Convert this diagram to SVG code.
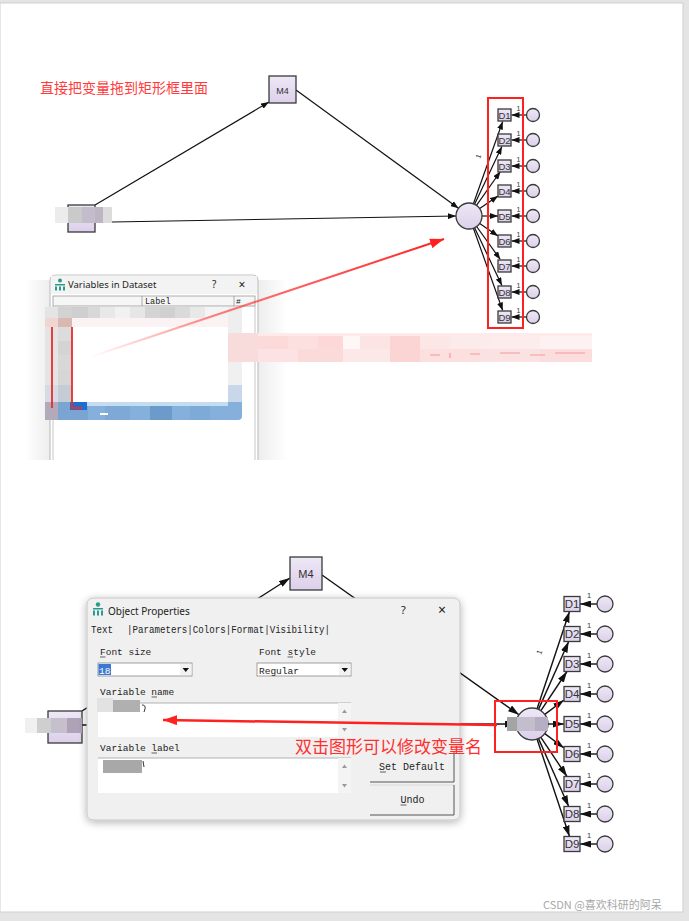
<svg xmlns="http://www.w3.org/2000/svg" width="689" height="921" viewBox="0 0 689 921">
<defs>
<style>
.node{fill:url(#lav);stroke:#3a3a3a;stroke-width:1.3}
.lbl{font-family:"Liberation Sans",Arial,sans-serif;fill:#333;text-anchor:middle}
.edge{stroke:#111;stroke-width:1.2;fill:none}
.eb{stroke:#111;stroke-width:1.4;fill:none}
.mono{font-family:"Liberation Mono","DejaVu Sans Mono",monospace;fill:#222}
.ui{font-family:"Noto Sans","Liberation Sans",sans-serif;fill:#222}
.cn{font-family:"Noto Sans CJK SC","Noto Sans CJK JP",sans-serif}
.one{font-family:"Liberation Sans",Arial,sans-serif;fill:#333}
</style>
<linearGradient id="lav" x1="0" y1="0" x2="0" y2="1"><stop offset="0" stop-color="#eee8f6"/><stop offset="1" stop-color="#dcd0ea"/></linearGradient>
<linearGradient id="fade" gradientUnits="userSpaceOnUse" x1="90" y1="357" x2="444" y2="239"><stop offset="0" stop-color="#ff3030" stop-opacity="0"/><stop offset="0.35" stop-color="#ff3030" stop-opacity="0.6"/><stop offset="1" stop-color="#ff2020"/></linearGradient>
<linearGradient id="shl" x1="0" y1="0" x2="1" y2="0"><stop offset="0" stop-color="#000" stop-opacity="0"/><stop offset="1" stop-color="#000" stop-opacity="0.07"/></linearGradient>
<linearGradient id="shr" x1="0" y1="0" x2="1" y2="0"><stop offset="0" stop-color="#000" stop-opacity="0.07"/><stop offset="1" stop-color="#000" stop-opacity="0"/></linearGradient>
<filter id="sh" x="-10%" y="-10%" width="120%" height="130%"><feGaussianBlur in="SourceAlpha" stdDeviation="4"/><feOffset dy="2"/><feComponentTransfer><feFuncA type="linear" slope="0.3"/></feComponentTransfer><feMerge><feMergeNode/><feMergeNode in="SourceGraphic"/></feMerge></filter>
<marker id="ah" markerUnits="userSpaceOnUse" markerWidth="8" markerHeight="6" refX="8" refY="3" orient="auto"><path d="M0,0L8,3L0,6z" fill="#111"/></marker>
<marker id="ahb" markerUnits="userSpaceOnUse" markerWidth="11" markerHeight="7" refX="11" refY="3.5" orient="auto"><path d="M0,0L11,3.5L0,7z" fill="#111"/></marker>
<marker id="ar" markerUnits="userSpaceOnUse" markerWidth="14" markerHeight="10" refX="14" refY="5" orient="auto"><path d="M0,0L14,5L0,10z" fill="#ff2020"/></marker>
</defs>

<!-- page -->
<rect x="0" y="0" width="689" height="921" fill="#e4e4e4"/>
<rect x="0" y="3" width="683" height="909" fill="#ffffff" stroke="#cfcfcf" stroke-width="1"/>

<!-- ================= TOP SCREENSHOT ================= -->
<text x="40" y="93" class="cn" font-size="14" fill="#ff3b3b">直接把变量拖到矩形框里面</text>

<g id="top-connectors">
  <line class="edge" x1="95" y1="205" x2="269" y2="102" marker-end="url(#ah)"/>
  <line class="edge" x1="296" y1="90" x2="458.5" y2="208.3" marker-end="url(#ah)"/>
  <line class="edge" x1="112" y1="222" x2="456" y2="216" marker-end="url(#ah)"/>
  <line class="edge" x1="473.4" y1="203.8" x2="502.7" y2="121.5" marker-end="url(#ah)"/>
  <line class="edge" x1="474.6" y1="204.2" x2="501.9" y2="146.5" marker-end="url(#ah)"/>
  <line class="edge" x1="476.5" y1="205.4" x2="500.4" y2="171.5" marker-end="url(#ah)"/>
  <line class="edge" x1="479.7" y1="208.6" x2="498" y2="195.9" marker-end="url(#ah)"/>
  <line class="edge" x1="482" y1="216" x2="498" y2="216" marker-end="url(#ah)"/>
  <line class="edge" x1="479.7" y1="223.4" x2="498" y2="236.1" marker-end="url(#ah)"/>
  <line class="edge" x1="476.6" y1="226.5" x2="500.3" y2="259.5" marker-end="url(#ah)"/>
  <line class="edge" x1="474.6" y1="227.7" x2="501.9" y2="285.5" marker-end="url(#ah)"/>
  <line class="edge" x1="473.4" y1="228.2" x2="502.7" y2="310.5" marker-end="url(#ah)"/>
  <line class="edge" x1="526.5" y1="115" x2="511.5" y2="115" marker-end="url(#ah)"/>
  <line class="edge" x1="526.5" y1="140" x2="511.5" y2="140" marker-end="url(#ah)"/>
  <line class="edge" x1="526.5" y1="166" x2="511.5" y2="166" marker-end="url(#ah)"/>
  <line class="edge" x1="526.5" y1="191" x2="511.5" y2="191" marker-end="url(#ah)"/>
  <line class="edge" x1="526.5" y1="216" x2="511.5" y2="216" marker-end="url(#ah)"/>
  <line class="edge" x1="526.5" y1="241" x2="511.5" y2="241" marker-end="url(#ah)"/>
  <line class="edge" x1="526.5" y1="266" x2="511.5" y2="266" marker-end="url(#ah)"/>
  <line class="edge" x1="526.5" y1="292" x2="511.5" y2="292" marker-end="url(#ah)"/>
  <line class="edge" x1="526.5" y1="317" x2="511.5" y2="317" marker-end="url(#ah)"/>
  <g class="one" font-size="7">
    <text x="516.5" y="111">1</text><text x="516.5" y="136">1</text><text x="516.5" y="162">1</text>
    <text x="516.5" y="187">1</text><text x="516.5" y="212">1</text><text x="516.5" y="237">1</text>
    <text x="516.5" y="262">1</text><text x="516.5" y="288">1</text><text x="516.5" y="313">1</text>
    <text x="480" y="159" transform="rotate(-70 480 159)">1</text>
  </g>
</g>

<g id="top-M4"><rect class="node" x="269" y="76" width="27" height="27" stroke-width="1.8"/><text class="lbl" x="282.5" y="93.5" font-size="9">M4</text></g>
<g id="top-X">
  <rect class="node" x="68" y="205" width="27" height="27" stroke-width="1.6"/>
  <rect x="55" y="207" width="13" height="16" fill="#ececec"/>
  <rect x="68" y="207" width="14" height="16" fill="#cacaca"/>
  <rect x="82" y="207" width="13" height="16" fill="#c2bccc"/>
  <rect x="95" y="207" width="8" height="16" fill="#bdb5c4"/>
  <rect x="103" y="207" width="9" height="16" fill="#dcdcdc"/>
</g>
<g id="top-F"><circle class="node" cx="469" cy="216" r="13"/></g>
<g id="top-D">
  <g id="tD1"><rect class="node" x="498" y="109" width="13" height="12"/><text class="lbl" x="504.5" y="118.5" font-size="9.5">D1</text><circle class="node" cx="533" cy="115" r="6.5"/></g>
  <g id="tD2"><rect class="node" x="498" y="134" width="13" height="12"/><text class="lbl" x="504.5" y="143.5" font-size="9.5">D2</text><circle class="node" cx="533" cy="140" r="6.5"/></g>
  <g id="tD3"><rect class="node" x="498" y="160" width="13" height="12"/><text class="lbl" x="504.5" y="169.5" font-size="9.5">D3</text><circle class="node" cx="533" cy="166" r="6.5"/></g>
  <g id="tD4"><rect class="node" x="498" y="185" width="13" height="12"/><text class="lbl" x="504.5" y="194.5" font-size="9.5">D4</text><circle class="node" cx="533" cy="191" r="6.5"/></g>
  <g id="tD5"><rect class="node" x="498" y="210" width="13" height="12"/><text class="lbl" x="504.5" y="219.5" font-size="9.5">D5</text><circle class="node" cx="533" cy="216" r="6.5"/></g>
  <g id="tD6"><rect class="node" x="498" y="235" width="13" height="12"/><text class="lbl" x="504.5" y="244.5" font-size="9.5">D6</text><circle class="node" cx="533" cy="241" r="6.5"/></g>
  <g id="tD7"><rect class="node" x="498" y="260" width="13" height="12"/><text class="lbl" x="504.5" y="269.5" font-size="9.5">D7</text><circle class="node" cx="533" cy="266" r="6.5"/></g>
  <g id="tD8"><rect class="node" x="498" y="286" width="13" height="12"/><text class="lbl" x="504.5" y="295.5" font-size="9.5">D8</text><circle class="node" cx="533" cy="292" r="6.5"/></g>
  <g id="tD9"><rect class="node" x="498" y="311" width="13" height="12"/><text class="lbl" x="504.5" y="320.5" font-size="9.5">D9</text><circle class="node" cx="533" cy="317" r="6.5"/></g>
</g>
<rect id="top-redbox" x="488" y="98" width="35" height="230" fill="none" stroke="#ff2020" stroke-width="2"/>

<!-- Variables in Dataset window -->
<g id="dataset-window">
  <rect x="25" y="280" width="25" height="180" fill="url(#shl)"/>
  <rect x="258" y="280" width="30" height="180" fill="url(#shr)"/>
  <path d="M50,460 V281 Q50,275 56,275 H252 Q258,275 258,281 V460" fill="#ffffff" stroke="#c4c4c4" stroke-width="1.2"/>
  <rect x="51" y="276" width="206" height="18" fill="#f3f3f3"/>
  <g fill="#2a9a8c"><circle cx="60" cy="280.5" r="2"/><rect x="55" y="284" width="10" height="1.5"/><rect x="55" y="286.5" width="2" height="4"/><rect x="59" y="286.5" width="2" height="4"/><rect x="63" y="286.5" width="2" height="4"/></g>
  <text x="68" y="288" class="ui" font-size="9.5">Variables in Dataset</text>
  <text x="212" y="288" class="ui" font-size="10">?</text>
  <text x="242" y="289" class="ui" font-size="12" text-anchor="middle">×</text>
  <rect x="53" y="296" width="202" height="10" fill="#f6f6f6" stroke="#9a9a9a" stroke-width="0.8"/>
  <line x1="142" y1="296" x2="142" y2="306" stroke="#9a9a9a" stroke-width="0.8"/>
  <line x1="234" y1="296" x2="234" y2="306" stroke="#9a9a9a" stroke-width="0.8"/>
  <text x="145" y="304" class="mono" font-size="8.5">Label</text>
  <text x="236" y="304" class="mono" font-size="8">#</text>
  <line x1="53" y1="306" x2="53" y2="460" stroke="#b8b8b8" stroke-width="0.8"/>
  <line x1="255" y1="306" x2="255" y2="460" stroke="#b8b8b8" stroke-width="0.8"/>
  <!-- mosaic blur -->
  <g>
    <rect x="45" y="307" width="13" height="11" fill="#e4e4e4"/><rect x="58" y="307" width="14" height="11" fill="#d2d2d2"/>
    <rect x="72" y="307" width="16" height="11" fill="#cfcfcf"/><rect x="88" y="307" width="12" height="11" fill="#d8d8d8"/>
    <rect x="100" y="307" width="15" height="11" fill="#e8e8e8"/><rect x="115" y="307" width="15" height="11" fill="#f1f1f1"/>
    <rect x="130" y="307" width="15" height="11" fill="#e6e6e6"/><rect x="145" y="307" width="15" height="11" fill="#d4d4d4"/>
    <rect x="160" y="307" width="15" height="11" fill="#d0d0d0"/><rect x="175" y="307" width="15" height="11" fill="#dadada"/>
    <rect x="190" y="307" width="15" height="11" fill="#e8e8e8"/><rect x="205" y="307" width="23" height="11" fill="#f4f4f4"/>
    <rect x="45" y="318" width="13" height="9" fill="#f0d6d2"/><rect x="58" y="318" width="14" height="9" fill="#d8b8b0"/>
    <rect x="72" y="318" width="156" height="9" fill="#fbf3f3"/><rect x="228" y="307" width="14" height="26" fill="#eeeeee"/>
    <rect x="45" y="327" width="13" height="75" fill="#e4e4e4"/>
    <rect x="58" y="327" width="14" height="14" fill="#dcdcdc"/><rect x="58" y="341" width="14" height="14" fill="#d4d4d4"/>
    <rect x="58" y="355" width="14" height="15" fill="#d8d8d8"/><rect x="58" y="370" width="14" height="15" fill="#d6d6d6"/>
    <rect x="58" y="385" width="14" height="17" fill="#c6ccd6"/>
    <rect x="45" y="385" width="13" height="17" fill="#d6dae2"/>
    <rect x="72" y="327" width="156" height="75" fill="#ffffff"/>
    <rect x="228" y="333" width="14" height="27" fill="#f4cccc"/><rect x="228" y="360" width="14" height="25" fill="#f0f0f0"/>
    <rect x="228" y="385" width="14" height="17" fill="#c8d8ea"/>
    <path d="M45,402 H242 V416 Q242,420 238,420 H49 Q45,420 45,416 Z" fill="#86b0dc"/>
    <rect x="58" y="402" width="30" height="18" fill="#7aa4d2"/><rect x="105" y="405" width="25" height="15" fill="#7ea8d6"/>
    <rect x="150" y="405" width="22" height="15" fill="#6c9acb"/><rect x="190" y="405" width="20" height="15" fill="#7eaad8"/>
    <rect x="87" y="402" width="141" height="4" fill="#c4dcf0"/>
    <rect x="45" y="402" width="13" height="18" fill="#b2aabb"/>
    <rect x="70" y="402" width="17" height="8" fill="#1a6fd0"/>
    <rect x="100" y="413" width="8" height="2" fill="#ffffff"/>
  </g>
  <line x1="52" y1="327" x2="52" y2="408" stroke="#ee2a2a" stroke-width="1.8"/>
  <polyline points="72,327 72,408 82,408" fill="none" stroke="#ee2a2a" stroke-width="1.8"/>
</g>

<!-- pink blurred caption band -->
<g id="pink-band">
  <rect x="228" y="333" width="364" height="29" fill="#fdeaea"/>
  <rect x="228" y="333" width="30" height="29" fill="#f8dcdc"/>
  <rect x="258" y="336" width="30" height="13" fill="#fcdada"/><rect x="288" y="336" width="30" height="13" fill="#fce0e0"/>
  <rect x="318" y="336" width="25" height="13" fill="#fcd8d8"/><rect x="343" y="336" width="17" height="13" fill="#fff6f6"/>
  <rect x="360" y="336" width="30" height="13" fill="#fde4e4"/><rect x="390" y="336" width="30" height="26" fill="#fbd4d4"/>
  <rect x="420" y="336" width="30" height="13" fill="#fde6e6"/><rect x="450" y="336" width="40" height="13" fill="#fcebeb"/>
  <rect x="490" y="336" width="50" height="13" fill="#fdecec"/><rect x="540" y="336" width="52" height="13" fill="#fef1f1"/>
  <rect x="258" y="349" width="40" height="13" fill="#fce2e2"/><rect x="298" y="349" width="45" height="13" fill="#fbdada"/>
  <rect x="343" y="349" width="47" height="13" fill="#fde8e8"/><rect x="420" y="349" width="60" height="13" fill="#fcdfdf"/>
  <rect x="480" y="349" width="60" height="13" fill="#fbe2e2"/><rect x="540" y="349" width="52" height="13" fill="#fcdddd"/>
  <path d="M430,355 H440 M450,353 V358 M470,354 H480 M500,353 H520 M530,355 H545 M555,353 H585" stroke="#f29a9a" stroke-width="1.2"/>
</g>

<line id="red-drag-arrow" x1="90" y1="357" x2="444" y2="239" stroke="url(#fade)" stroke-width="2" marker-end="url(#ar)"/>

<!-- ================= BOTTOM SCREENSHOT ================= -->
<g id="bottom-connectors">
  <line class="eb" x1="82" y1="711" x2="290" y2="578" marker-end="url(#ahb)"/>
  <line class="eb" x1="322" y1="575" x2="519" y2="714.7" marker-end="url(#ahb)"/>
  <line class="eb" x1="82" y1="725" x2="516" y2="724" marker-end="url(#ahb)"/>
  <line class="eb" x1="537.1" y1="708.8" x2="569.5" y2="611.5" marker-end="url(#ahb)"/>
  <line class="eb" x1="538.5" y1="709.4" x2="568.7" y2="641.5" marker-end="url(#ahb)"/>
  <line class="eb" x1="540.9" y1="710.7" x2="567" y2="671.5" marker-end="url(#ahb)"/>
  <line class="eb" x1="544.8" y1="714.4" x2="564" y2="700" marker-end="url(#ahb)"/>
  <line class="eb" x1="548" y1="724" x2="564" y2="724" marker-end="url(#ahb)"/>
  <line class="eb" x1="544.8" y1="733.6" x2="564" y2="748" marker-end="url(#ahb)"/>
  <line class="eb" x1="540.9" y1="737.3" x2="567" y2="776.5" marker-end="url(#ahb)"/>
  <line class="eb" x1="538.5" y1="738.6" x2="568.7" y2="806.5" marker-end="url(#ahb)"/>
  <line class="eb" x1="537.1" y1="739.2" x2="569.5" y2="836.5" marker-end="url(#ahb)"/>
  <line class="eb" x1="597" y1="604" x2="580" y2="604" marker-end="url(#ahb)"/>
  <line class="eb" x1="597" y1="634" x2="580" y2="634" marker-end="url(#ahb)"/>
  <line class="eb" x1="597" y1="664" x2="580" y2="664" marker-end="url(#ahb)"/>
  <line class="eb" x1="597" y1="694" x2="580" y2="694" marker-end="url(#ahb)"/>
  <line class="eb" x1="597" y1="724" x2="580" y2="724" marker-end="url(#ahb)"/>
  <line class="eb" x1="597" y1="754" x2="580" y2="754" marker-end="url(#ahb)"/>
  <line class="eb" x1="597" y1="784" x2="580" y2="784" marker-end="url(#ahb)"/>
  <line class="eb" x1="597" y1="814" x2="580" y2="814" marker-end="url(#ahb)"/>
  <line class="eb" x1="597" y1="844" x2="580" y2="844" marker-end="url(#ahb)"/>
  <g class="one" font-size="7.5">
    <text x="587" y="598">1</text><text x="587" y="628">1</text><text x="587" y="658">1</text>
    <text x="587" y="688">1</text><text x="587" y="718">1</text><text x="587" y="748">1</text>
    <text x="587" y="778">1</text><text x="587" y="808">1</text><text x="587" y="838">1</text>
    <text x="541" y="655" transform="rotate(-70 541 655)">1</text>
  </g>
</g>

<g id="bot-M4"><rect class="node" x="290" y="557" width="32" height="33" stroke-width="1.8"/><text class="lbl" x="306" y="578" font-size="11">M4</text></g>
<g id="bot-X">
  <rect class="node" x="48" y="711" width="34" height="32" stroke-width="1.8"/>
  <rect x="25" y="718" width="12" height="15" fill="#f0f0f0"/>
  <rect x="37" y="718" width="14" height="15" fill="#cfcfcf"/>
  <rect x="51" y="718" width="16" height="15" fill="#c6c0cc"/>
  <rect x="67" y="718" width="15" height="15" fill="#ada2b6"/>
</g>
<g id="bot-F">
  <circle class="node" cx="532" cy="724" r="16"/>
  <rect x="507" y="717" width="10" height="14" fill="#a4a4a4"/>
  <rect x="517" y="717" width="18" height="14" fill="#c2bece"/>
  <rect x="535" y="717" width="13" height="14" fill="#b6aec2"/>
</g>
<g id="bot-D">
  <g id="bD1"><rect class="node" x="564" y="596.5" width="16" height="15"/><text class="lbl" x="572" y="608" font-size="11.5">D1</text><circle class="node" cx="605" cy="604" r="8"/></g>
  <g id="bD2"><rect class="node" x="564" y="626.5" width="16" height="15"/><text class="lbl" x="572" y="638" font-size="11.5">D2</text><circle class="node" cx="605" cy="634" r="8"/></g>
  <g id="bD3"><rect class="node" x="564" y="656.5" width="16" height="15"/><text class="lbl" x="572" y="668" font-size="11.5">D3</text><circle class="node" cx="605" cy="664" r="8"/></g>
  <g id="bD4"><rect class="node" x="564" y="686.5" width="16" height="15"/><text class="lbl" x="572" y="698" font-size="11.5">D4</text><circle class="node" cx="605" cy="694" r="8"/></g>
  <g id="bD5"><rect class="node" x="564" y="716.5" width="16" height="15"/><text class="lbl" x="572" y="728" font-size="11.5">D5</text><circle class="node" cx="605" cy="724" r="8"/></g>
  <g id="bD6"><rect class="node" x="564" y="746.5" width="16" height="15"/><text class="lbl" x="572" y="758" font-size="11.5">D6</text><circle class="node" cx="605" cy="754" r="8"/></g>
  <g id="bD7"><rect class="node" x="564" y="776.5" width="16" height="15"/><text class="lbl" x="572" y="788" font-size="11.5">D7</text><circle class="node" cx="605" cy="784" r="8"/></g>
  <g id="bD8"><rect class="node" x="564" y="806.5" width="16" height="15"/><text class="lbl" x="572" y="818" font-size="11.5">D8</text><circle class="node" cx="605" cy="814" r="8"/></g>
  <g id="bD9"><rect class="node" x="564" y="836.5" width="16" height="15"/><text class="lbl" x="572" y="848" font-size="11.5">D9</text><circle class="node" cx="605" cy="844" r="8"/></g>
</g>
<rect id="bot-redbox" x="495" y="701" width="62" height="51" fill="none" stroke="#ff2020" stroke-width="2"/>

<!-- Object Properties dialog -->
<g id="object-properties">
  <rect x="87" y="598" width="373" height="222" rx="6" fill="#f0f0f0" stroke="#c6c6c6" stroke-width="1" filter="url(#sh)"/>
  <g fill="#2a9a8c"><circle cx="98" cy="604.5" r="2.2"/><rect x="93" y="608" width="10" height="1.5"/><rect x="93" y="610.5" width="2" height="5"/><rect x="97" y="610.5" width="2" height="5"/><rect x="101" y="610.5" width="2" height="5"/></g>
  <text x="108" y="614.5" class="ui" font-size="10">Object Properties</text>
  <text x="401" y="614" class="ui" font-size="11">?</text>
  <text x="442" y="615" class="ui" font-size="14" text-anchor="middle">×</text>
  <text x="91" y="633" class="mono" font-size="10" textLength="22" lengthAdjust="spacingAndGlyphs">Text</text>
  <text x="127" y="633" class="mono" font-size="10" textLength="203" lengthAdjust="spacingAndGlyphs">|Parameters|Colors|Format|Visibility|</text>

  <text x="100" y="655" class="mono" font-size="9.5">Font size</text>
  <line x1="100" y1="657" x2="105.5" y2="657" stroke="#222" stroke-width="0.7"/>
  <text x="259" y="655" class="mono" font-size="9.5">Font style</text>
  <line x1="287.5" y1="657" x2="293" y2="657" stroke="#222" stroke-width="0.7"/>

  <rect x="98" y="663" width="94" height="13" fill="#ffffff" stroke="#8a8a8a" stroke-width="0.8"/>
  <rect x="98.5" y="664" width="12.5" height="11" fill="#3a78d4"/>
  <text x="99" y="673.5" class="mono" font-size="9.5" style="fill:#ffffff">18</text>
  <rect x="180" y="664" width="11.5" height="11" fill="#f2f2f2"/>
  <path d="M182.5,668 H189 L185.75,672 Z" fill="#111"/>
  <rect x="257" y="663" width="94" height="13" fill="#ffffff" stroke="#8a8a8a" stroke-width="0.8"/>
  <text x="259" y="673.5" class="mono" font-size="9.5">Regular</text>
  <rect x="339" y="664" width="11.5" height="11" fill="#f2f2f2"/>
  <path d="M341.5,668 H348 L344.75,672 Z" fill="#111"/>

  <text x="100" y="695" class="mono" font-size="9.5">Variable name</text>
  <line x1="151.5" y1="697" x2="157" y2="697" stroke="#222" stroke-width="0.7"/>
  <rect x="98" y="703" width="253" height="34" fill="#ffffff"/>
  <line x1="98" y1="703" x2="351" y2="703" stroke="#a0a0a0" stroke-width="0.8"/>
  <rect x="338" y="703" width="13" height="34" fill="#f4f4f4"/>
  <path d="M342,713 H347 L344.5,709.5 Z M342,728 H347 L344.5,731.5 Z" fill="#9a9a9a"/>
  <rect x="97" y="698" width="16" height="14" fill="#e2e2e2"/>
  <rect x="113" y="700" width="27" height="12" fill="#b0b0b0"/>
  <path d="M142,705 Q146,705 145,709 L144,712" stroke="#333" stroke-width="1" fill="none"/>

  <text x="100" y="751" class="mono" font-size="9.5">Variable label</text>
  <line x1="151.5" y1="753" x2="157" y2="753" stroke="#222" stroke-width="0.7"/>
  <rect x="98" y="758" width="253" height="35" fill="#ffffff"/>
  <line x1="98" y1="758" x2="351" y2="758" stroke="#a0a0a0" stroke-width="0.8"/>
  <rect x="338" y="758" width="13" height="35" fill="#f4f4f4"/>
  <path d="M342,768 H347 L344.5,764.5 Z M342,784 H347 L344.5,787.5 Z" fill="#9a9a9a"/>
  <rect x="103" y="760" width="39" height="13" fill="#a8a8a8"/>
  <path d="M143,761 L144,767" stroke="#333" stroke-width="1"/>

  <rect x="370" y="752" width="84" height="30" fill="#f0f0f0"/>
  <polyline points="370,782 454,782 454,752" fill="none" stroke="#555" stroke-width="1"/>
  <text x="412" y="770" class="mono" font-size="10" text-anchor="middle">Set Default</text>
  <line x1="380" y1="772" x2="386" y2="772" stroke="#222" stroke-width="0.7"/>
  <rect x="370" y="785" width="84" height="30" fill="#f0f0f0"/>
  <polyline points="370,785 454,785" fill="none" stroke="#d8d8d8" stroke-width="1"/>
  <polyline points="370,815 454,815 454,785" fill="none" stroke="#555" stroke-width="1"/>
  <text x="412.5" y="803" class="mono" font-size="10" text-anchor="middle">Undo</text>
  <line x1="400.5" y1="805" x2="406.5" y2="805" stroke="#222" stroke-width="0.7"/>
</g>

<text x="295" y="753" class="cn" font-size="17" fill="#ff2f2f">双击图形可以修改变量名</text>
<line id="red-rename-arrow" x1="497" y1="725" x2="163" y2="720" stroke="#ff2020" stroke-width="2.5" marker-end="url(#ar)"/>

<text x="543" y="909" class="cn" font-size="11" fill="#a8a8a8">CSDN @喜欢科研的阿呆</text>
</svg>
